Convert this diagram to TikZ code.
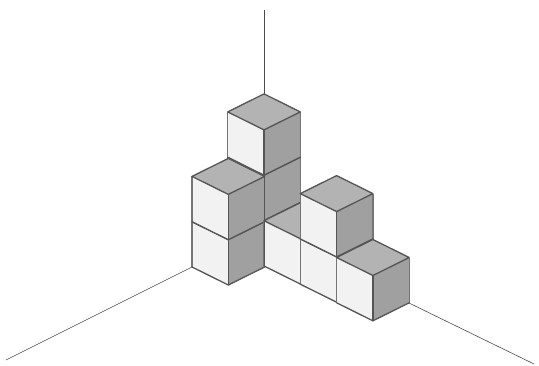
\documentclass[tikz,border=0pt]{standalone}
\usepackage{tikz}

\definecolor{cubeleft}{HTML}{F2F2F2}
\definecolor{cubetop}{HTML}{B3B3B3}
\definecolor{cuberight}{HTML}{A0A0A0}
\definecolor{cubeedge}{HTML}{555555}
\definecolor{cubeside}{HTML}{757575}

\tikzset{
	axisline/.style={draw=black!70, line width=0.6pt},
	cubeface/.style={draw=cubeedge, line width=1.3pt, line join=round, line cap=round},
	cubeouter/.style={draw=cubeside, line width=1.2pt},
}

\newcommand{\cubeat}[2]{%
	\fill[cubeleft] (#1,#2) -- ++(-36.3,-18) -- ++(0,-45.3) -- ++(36.3,18) -- cycle;
	\fill[cuberight] (#1,#2) -- ++(36.3,-18) -- ++(0,-45.3) -- ++(-36.3,18) -- cycle;
	\draw[cubeouter] (#1-36.3,#2-18) -- ++(0,-45.3);
	\draw[cubeouter] (#1+36.3,#2-18) -- ++(0,-45.3);
	\draw[cubeface] (#1-36.3,#2-18) -- (#1,#2) -- ++(36.3,-18);
	\draw[cubeface] (#1,#2) -- ++(0,-45.3);
	\filldraw[cubeface, fill=cubetop] (#1,#2-45.3) -- ++(-36.3,-18) -- ++(36.3,-18) -- ++(36.3,18) -- cycle;
}

\begin{document}
\begin{tikzpicture}[x=1pt, y=-1pt]
	\useasboundingbox (0,0) rectangle (539,365);
	\draw[axisline] (264,10) -- (264,94);
	\draw[axisline] (192,267) -- (6,360);
	\draw[axisline] (409,303) -- (534,364);
	\foreach \px/\py in {264/220.5, 264/175.2, 228.3/285, 228.3/239.7, 300.3/284, 336.6/302.2, 336.6/256.9, 372.9/320.8}
		\cubeat{\px}{\py};
	\draw[cubeface] (264.3,175.5) -- (264.3,266.5);
\end{tikzpicture}
\end{document}
